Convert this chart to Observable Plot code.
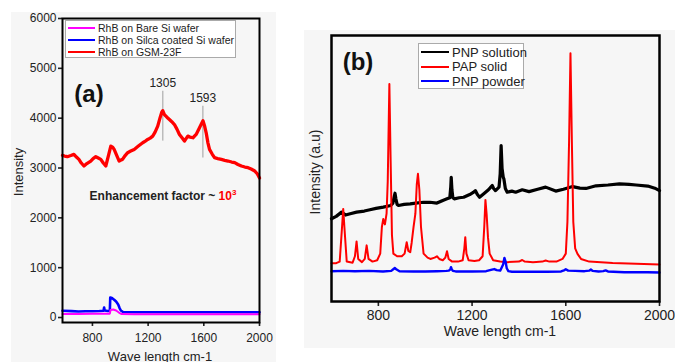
<!DOCTYPE html>
<html><head><meta charset="utf-8">
<script src="https://cdn.jsdelivr.net/npm/d3@7"></script>
<script src="https://cdn.jsdelivr.net/npm/@observablehq/plot@0.6"></script>
<style>
body{margin:0;background:#fff;font-family:Arial,"Liberation Sans",sans-serif;}
#wrap{position:relative;width:675px;height:362px;overflow:hidden;background:#fff;}
.bg{position:absolute;background:#f6f6f6;}
.abs{position:absolute;white-space:nowrap;color:#222;}
.rot{transform:translate(-50%,-50%) rotate(-90deg);}
.ctr{transform:translate(-50%,-50%);}
.leg{position:absolute;background:#fff;border:1px solid #aaa;box-sizing:border-box;white-space:nowrap;overflow:visible;}
.leg div{position:relative;display:flex;align-items:center;color:#222;white-space:nowrap;}
.leg span.sw{display:inline-block;flex:none;}
svg{position:absolute;}
</style></head><body><div id="wrap">
<div class="bg" style="left:11px;top:12px;width:265px;height:350px"></div>
<div class="bg" style="left:304px;top:30px;width:371px;height:318px"></div>
</div>
<script>
// ---------- Panel (a) data ----------
const xTicksA = [800, 1200, 1600, 2000];
const yTicksA = [0, 1000, 2000, 3000, 4000, 5000, 6000];
const seriesA = ["RhB on Bare Si wafer", "RhB on Silca coated Si wafer", "RhB on GSM-23F"];
const gsmX = [585,600,620,645,667,685,703,720,739,760,788,805,824,842,860,878,896,915,932,945,956,975,992,1005,1016,1035,1053,1075,1100,1130,1161,1180,1197,1215,1233,1250,1269,1285,1298,1305,1317,1335,1353,1370,1389,1407,1425,1445,1461,1475,1485,1500,1522,1545,1569,1585,1594,1605,1617,1630,1641,1660,1677,1700,1726,1750,1774,1800,1822,1845,1870,1895,1918,1940,1966,1985,2000];
const gsmY = [3253,3240,3227,3250,3273,3220,3173,3100,3040,3090,3140,3190,3227,3200,3173,3100,3040,3250,3440,3420,3373,3250,3140,3160,3173,3250,3307,3340,3373,3440,3507,3540,3573,3600,3640,3720,3840,4000,4120,4150,4073,4020,3973,3930,3873,3780,3673,3600,3540,3600,3640,3620,3607,3673,3807,3900,3950,3850,3707,3500,3373,3280,3207,3190,3173,3155,3140,3120,3107,3070,3040,3020,3007,2980,2940,2880,2800];
const silX = [585,650,700,750,800,850,880,884,888,910,925,928,940,956,970,985,995,1004,1020,1100,1300,1500,1700,1900,2000];
const silY = [135,128,122,125,127,130,135,200,140,130,130,400,390,355,320,260,190,140,110,105,105,105,105,105,105];
const bareX = [585,700,800,900,925,930,950,970,990,1010,1100,1500,2000];
const bareY = [72,72,74,76,78,150,160,140,100,70,66,66,66];
const peakLabels = [1305, 1593];
const peakTextY = [4700, 4400];
const peakRuleTop = [4540, 4240];
const peakRuleBottom = [3540, 3200];

// ---------- Panel (b) data ----------
const xTicksB = [800, 1200, 1600, 2000];
const seriesB = ["PNP solution", "PAP solid", "PNP powder"];
const papX = [600,620,635,645,650,655,665,690,700,707,714,730,742,750,758,775,795,808,815,821,828,835,840,847,852,858,864,880,900,912,921,928,936,942,950,958,964,969,975,982,993,1010,1022,1040,1050,1060,1075,1086,1093,1100,1115,1140,1160,1167,1171,1176,1185,1210,1230,1245,1252,1257,1262,1268,1275,1290,1320,1350,1400,1414,1425,1460,1500,1514,1530,1560,1586,1600,1607,1614,1620,1626,1632,1640,1650,1665,1700,1750,1800,1900,2000];
const papY = [14.4,14.4,15,28,34.8,28,15,14.6,17,22.6,16,14.8,16,21.1,16,15,15.5,18,28,31,29,33,45,81.8,55,25,18,17,17,18,22.3,19,18.5,22,27.9,33,44,48,42,28,18,16.5,16,16.5,17,16,15.5,16.5,18.9,16,15,15,15.5,20,24.2,18,15.5,15.2,15.5,17,28,38.2,33,24,18,15.5,15,14.8,15,15.6,15,14.8,15,15.4,15,15,16,18,30,60,93.3,60,30,20,17.9,16,15,14.8,14.5,14.2,13.9];
const solX = [600,620,643,660,680,707,740,764,790,821,853,862,868,871,875,880,886,910,936,960,993,1020,1050,1075,1093,1105,1109,1111,1114,1118,1124,1145,1164,1190,1205,1214,1222,1232,1250,1270,1280,1286,1292,1300,1315,1320,1324,1328,1333,1336,1342,1350,1370,1386,1414,1443,1480,1514,1557,1590,1629,1660,1686,1729,1780,1829,1870,1900,1950,1980,2000];
const solY = [31.1,32,33.6,32.5,33,33.6,34,34.5,35,35.5,36.1,37,39.5,40.7,38.5,36.5,36.1,36.5,36.7,37,37.3,37.3,37,38,38.6,39,43,46.7,42,39,38.6,39,39.2,40.2,41,41.7,40.3,39.2,40.5,42,43,43.6,42.5,41.7,43,48,58.6,50,46.7,46,42.5,41.1,41.5,41.1,42,41.3,42.2,43,41.5,42.2,43.2,42.6,42.5,43.5,43.8,44.2,44,43.8,43.4,42.6,41.7];
const powX = [600,650,700,760,820,855,865,870,878,890,950,1000,1050,1090,1100,1107,1110,1113,1118,1130,1200,1260,1285,1295,1305,1320,1333,1338,1343,1348,1355,1370,1450,1520,1580,1595,1600,1610,1640,1680,1700,1707,1715,1740,1760,1770,1780,1850,1950,2000];
const powY = [11.4,11.5,11.4,11.5,11.3,11.5,12.2,12.6,12,11.4,11.3,11.3,11.4,11.5,11.6,12,12.9,12.2,11.5,11.3,11.3,11.4,12,12.2,11.8,11.6,14,16.4,15,12.5,11.4,11.2,11.2,11.2,11.3,11.8,12.1,11.6,11.5,11.4,11.6,12,11.5,11.3,11.4,11.7,11.3,11,11,10.9];

const pts = (xs, ys) => xs.map((x, i) => ({x, y: ys[i]}));
const wrap = document.getElementById("wrap");

// ---------- Panel (a) ----------
const peaks = peakLabels.map((p, i) => ({x: p, t: peakTextY[i], y1: peakRuleBottom[i], y2: peakRuleTop[i]}));
const chartA = Plot.plot({
  width: 280, height: 362,
  marginLeft: 62, marginRight: 21, marginTop: 18, marginBottom: 40,
  style: {background: "transparent", fontFamily: "Arial, 'Liberation Sans', sans-serif", fontSize: "12px", color: "#222", overflow: "visible"},
  x: {domain: [585, 2000]},
  y: {domain: [-100, 6000]},
  marks: [
    Plot.axisY({ticks: yTicksA, tickSize: 4, tickPadding: 2, label: null, tickFormat: d => String(d), fontSize: 12, strokeWidth: 1.6}),
    Plot.axisX({ticks: xTicksA, tickSize: 4, tickPadding: 7, label: null, tickFormat: d => String(d), fontSize: 12, strokeWidth: 1.6}),
    Plot.ruleX(peaks, {x: "x", y1: "y1", y2: "y2", stroke: "#bbb", strokeWidth: 1.5}),
    Plot.text(peaks, {x: "x", y: "t", text: d => String(d.x), fontSize: 12, fill: "#222"}),
    Plot.line(pts(gsmX, gsmY), {x: "x", y: "y", stroke: "#ff0000", strokeWidth: 3.3}),
    Plot.line(pts(silX, silY), {x: "x", y: "y", stroke: "#0000ff", strokeWidth: 2.6}),
    Plot.line(pts(bareX, bareY), {x: "x", y: "y", stroke: "#ff00ff", strokeWidth: 2}),
    Plot.frame({stroke: "#000", strokeWidth: 2})
  ]
});
chartA.style.left = "0px"; chartA.style.top = "0px";
wrap.appendChild(chartA);

// ---------- Panel (b) ----------
const chartB = Plot.plot({
  width: 385, height: 362,
  marginLeft: 41, marginRight: 16, marginTop: 35, marginBottom: 61,
  style: {background: "transparent", fontFamily: "Arial, 'Liberation Sans', sans-serif", fontSize: "14px", color: "#222", overflow: "visible"},
  x: {domain: [600, 2000]},
  y: {domain: [0, 100], axis: null},
  marks: [
    Plot.axisX({ticks: xTicksB, tickSize: 5, tickPadding: 4, label: null, tickFormat: d => String(d), fontSize: 14, strokeWidth: 1.6}),
    Plot.line(pts(solX, solY), {x: "x", y: "y", stroke: "#000", strokeWidth: 3.2}),
    Plot.line(pts(papX, papY), {x: "x", y: "y", stroke: "#ff0000", strokeWidth: 2}),
    Plot.line(pts(powX, powY), {x: "x", y: "y", stroke: "#0000ff", strokeWidth: 2.4}),
    Plot.frame({stroke: "#000", strokeWidth: 2.5})
  ]
});
chartB.style.left = "290px"; chartB.style.top = "0px";
wrap.appendChild(chartB);

// ---------- Text overlays ----------
function addText(html, x, y, style, cls) {
  const d = document.createElement("div");
  d.className = "abs " + (cls || "ctr");
  d.style.left = x + "px"; d.style.top = y + "px";
  d.style.cssText += style || "";
  d.innerHTML = html;
  wrap.appendChild(d);
  return d;
}
addText("Intensity", 18, 172, "font-size:13px;", "rot");
addText("Wave length cm-1", 160, 356, "font-size:13px;");
addText("(a)", 89, 94, "font-size:24px;font-weight:bold;color:#111;");
addText("Enhancement factor ~ <span style='color:#ff0000'>10<sup style='font-size:8px'>3</sup></span>", 163, 195, "font-size:12px;font-weight:bold;");
addText("Intensity (a.u)", 315, 172, "font-size:14px;", "rot");
addText("Wave length cm-1", 500, 331, "font-size:14px;");
addText("(b)", 358, 62, "font-size:24px;font-weight:bold;color:#111;");

function addLegend(names, colors, box, fs, swW, rowH) {
  const l = document.createElement("div");
  l.className = "leg";
  l.style.left = box[0] + "px"; l.style.top = box[1] + "px";
  l.style.width = box[2] + "px"; l.style.height = box[3] + "px";
  l.style.padding = "1px 2px";
  names.forEach((n, i) => {
    const r = document.createElement("div");
    r.style.height = rowH + "px";
    r.style.fontSize = fs + "px";
    r.innerHTML = `<span class="sw" style="width:${swW}px;height:2px;background:${colors[i]};margin-right:3px"></span><span>${n}</span>`;
    l.appendChild(r);
  });
  wrap.appendChild(l);
}
addLegend(seriesA, ["#ff00ff", "#0000ff", "#ff0000"], [65, 20, 171, 38], 10.5, 27, 12);
addLegend(seriesB, ["#000", "#ff0000", "#0000ff"], [418, 43, 106, 46], 13, 28, 14.5);
</script></body></html>
